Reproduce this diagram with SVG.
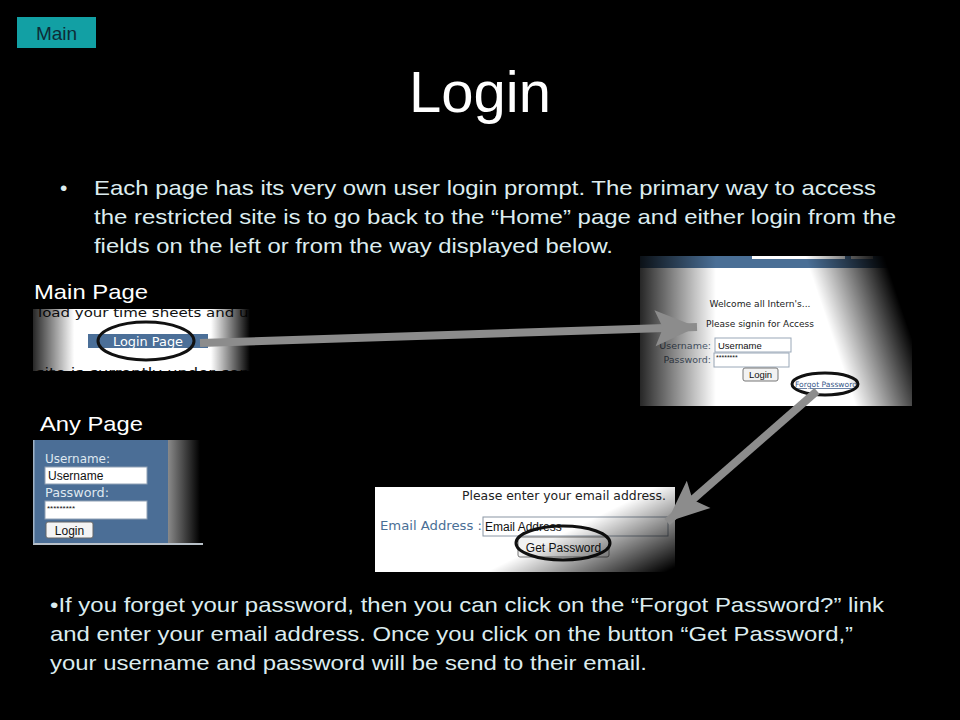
<svg xmlns="http://www.w3.org/2000/svg" width="960" height="720" viewBox="0 0 960 720">
<defs>
<style>
.body{font-family:"Liberation Sans",Arial,sans-serif;font-size:21px;fill:#dcecef}
.lbl{font-family:"Liberation Sans",Arial,sans-serif;font-size:21px;fill:#ffffff}
.ui{font-family:"DejaVu Sans",Verdana,sans-serif}
.ar{font-family:"Liberation Sans",Arial,sans-serif}
.conn{stroke:#8c8c8c;stroke-width:8;fill:none;marker-end:url(#head)}
.ring{fill:none;stroke:#111;stroke-width:3}
</style>
<marker id="head" markerUnits="userSpaceOnUse" viewBox="-46 -22 50 44" markerWidth="50" markerHeight="44" refX="0" refY="0" orient="auto">
<path d="M-42,-18 L0,0 L-42,18 L-34,0 z" fill="#8c8c8c"/>
</marker>
<linearGradient id="fade1" gradientUnits="userSpaceOnUse" x1="33" y1="0" x2="250" y2="0">
<stop offset="0" stop-color="#000" stop-opacity="0.85"/>
<stop offset="0.19" stop-color="#000" stop-opacity="0"/>
<stop offset="0.82" stop-color="#000" stop-opacity="0"/>
<stop offset="1" stop-color="#000" stop-opacity="1"/>
</linearGradient>
<linearGradient id="fade2l" gradientUnits="userSpaceOnUse" x1="640" y1="0" x2="716" y2="0">
<stop offset="0" stop-color="#000" stop-opacity="0.85"/>
<stop offset="1" stop-color="#000" stop-opacity="0"/>
</linearGradient>
<linearGradient id="fade2r" gradientUnits="userSpaceOnUse" x1="830" y1="330" x2="901" y2="306">
<stop offset="0" stop-color="#000" stop-opacity="0"/>
<stop offset="1" stop-color="#000" stop-opacity="1"/>
</linearGradient>
<linearGradient id="fade4" gradientUnits="userSpaceOnUse" x1="590" y1="520" x2="626" y2="592">
<stop offset="0" stop-color="#000" stop-opacity="0"/>
<stop offset="1" stop-color="#000" stop-opacity="1"/>
</linearGradient>
<linearGradient id="strip3" x1="0" y1="0" x2="1" y2="0">
<stop offset="0" stop-color="#8a8a8a"/>
<stop offset="1" stop-color="#000"/>
</linearGradient>
<clipPath id="clip1"><rect x="33" y="309" width="217" height="62"/></clipPath>
<clipPath id="clip2"><rect x="640" y="256" width="272" height="150"/></clipPath>
</defs>
<rect width="960" height="720" fill="#000"/>

<g id="main-button">
<rect x="17" y="17" width="79" height="31" fill="#12a0a4"/>
<text x="56.5" y="40" text-anchor="middle" class="ar" font-size="19" fill="#0e2c36">Main</text>
</g>

<g id="title">
<text x="480" y="112" text-anchor="middle" class="ar" font-size="58" fill="#ffffff">Login</text>
</g>

<g id="bullet-1" class="body">
<text x="60" y="195">•</text>
<text x="94" y="195" textLength="782" lengthAdjust="spacingAndGlyphs">Each page has its very own user login prompt. The primary way to access</text>
<text x="94" y="224" textLength="802" lengthAdjust="spacingAndGlyphs">the restricted site is to go back to the “Home” page and either login from the</text>
<text x="94" y="253" textLength="519" lengthAdjust="spacingAndGlyphs">fields on the left or from the way displayed below.</text>
</g>

<g id="main-page">
<text x="34" y="299" class="lbl" textLength="114" lengthAdjust="spacingAndGlyphs">Main Page</text>
<g clip-path="url(#clip1)">
<rect x="33" y="309" width="217" height="62" fill="#fff"/>
<text x="38" y="317" class="ui" font-size="13" fill="#111" textLength="220" lengthAdjust="spacingAndGlyphs">load your time sheets and up</text>
<rect x="88" y="334" width="120" height="14" fill="#4b6f98"/>
<text x="148" y="346" class="ui" font-size="12" fill="#fff" text-anchor="middle" textLength="70" lengthAdjust="spacingAndGlyphs">Login Page</text>
<text x="36" y="377" class="ui" font-size="13" fill="#111" textLength="222" lengthAdjust="spacingAndGlyphs">site is currently under cons</text>
<ellipse cx="146" cy="341" rx="48" ry="19" class="ring"/>
<rect x="33" y="309" width="217" height="62" fill="url(#fade1)"/>
</g>
</g>

<g id="login-page">
<g clip-path="url(#clip2)">
<rect x="640" y="256" width="272" height="150" fill="#fff"/>
<rect x="640" y="256" width="272" height="12" fill="#4a6f96"/>
<rect x="752" y="256" width="93" height="3" fill="#fff"/>
<rect x="851" y="256" width="22" height="3" fill="#cfcfcf"/>
<text x="760" y="307" class="ui" font-size="9.5" fill="#222" text-anchor="middle" textLength="101" lengthAdjust="spacingAndGlyphs">Welcome all Intern's...</text>
<text x="760" y="327" class="ui" font-size="9.5" fill="#222" text-anchor="middle" textLength="108" lengthAdjust="spacingAndGlyphs">Please signin for Access</text>
<text x="711" y="349" class="ui" font-size="9.5" fill="#56677a" text-anchor="end">Username:</text>
<rect x="715" y="338" width="76" height="14" fill="#fff" stroke="#9aa8b8"/>
<text x="718" y="349" class="ar" font-size="9.5" fill="#111">Username</text>
<text x="711" y="363" class="ui" font-size="9.5" fill="#56677a" text-anchor="end">Password:</text>
<rect x="714" y="353" width="75" height="14" fill="#fff" stroke="#9aa8b8"/>
<text x="716" y="360" class="ar" font-size="7" fill="#111">********</text>
<rect x="743" y="368" width="35" height="13" rx="2" fill="#f2f2f2" stroke="#777"/>
<text x="760.5" y="378" class="ar" font-size="9.5" fill="#111" text-anchor="middle">Login</text>
<text x="795" y="387" class="ui" font-size="7.5" fill="#3a5a8a" text-decoration="underline" textLength="62" lengthAdjust="spacingAndGlyphs">Forgot Password</text>
<ellipse cx="825" cy="384" rx="33" ry="11" class="ring" stroke-width="2.5"/>
<rect x="640" y="256" width="272" height="150" fill="url(#fade2l)"/>
<rect x="640" y="256" width="272" height="150" fill="url(#fade2r)"/>
</g>
</g>

<g id="any-page">
<text x="40" y="431" class="lbl" textLength="103" lengthAdjust="spacingAndGlyphs">Any Page</text>
<rect x="33" y="440" width="135" height="104" fill="#4b6e96"/>
<rect x="168" y="440" width="32" height="104" fill="url(#strip3)"/>
<rect x="33" y="543" width="170" height="2" fill="#b8c0c8"/>
<rect x="33" y="440" width="1.5" height="104" fill="#9fb2c6"/>
<text x="45" y="463" class="ui" font-size="11.5" fill="#dfe8f0" textLength="65" lengthAdjust="spacingAndGlyphs">Username:</text>
<rect x="45" y="467" width="102" height="17" fill="#fff" stroke="#8fa0b4"/>
<text x="48" y="480" class="ar" font-size="12" fill="#111">Username</text>
<text x="45" y="497" class="ui" font-size="11.5" fill="#dfe8f0" textLength="64" lengthAdjust="spacingAndGlyphs">Password:</text>
<rect x="45" y="501" width="102" height="18" fill="#fff" stroke="#8fa0b4"/>
<text x="47" y="511" class="ar" font-size="8" fill="#111">*********</text>
<rect x="46" y="522" width="47" height="16" rx="2" fill="#f4f4f4" stroke="#666"/>
<text x="69.5" y="535" class="ar" font-size="12" fill="#111" text-anchor="middle">Login</text>
</g>

<g id="forgot-page">
<rect x="375" y="487" width="300" height="85" fill="#fff"/>
<text x="666" y="500" class="ui" font-size="12" fill="#222" text-anchor="end" textLength="204" lengthAdjust="spacingAndGlyphs">Please enter your email address.</text>
<text x="380" y="530" class="ui" font-size="12" fill="#4a6f96" textLength="102" lengthAdjust="spacingAndGlyphs">Email Address :</text>
<rect x="483" y="517" width="185" height="19" fill="#fff" stroke="#8a96a4"/>
<text x="485" y="531" class="ar" font-size="12" fill="#111">Email Address</text>
<rect x="518" y="537" width="91" height="20" rx="2" fill="#f2f2f2" stroke="#777"/>
<text x="563.5" y="552" class="ar" font-size="12" fill="#111" text-anchor="middle">Get Password</text>
<ellipse cx="563" cy="543" rx="47" ry="17" class="ring"/>
<rect x="375" y="487" width="300" height="85" fill="url(#fade4)"/>
</g>

<g id="connectors">
<line x1="200" y1="343" x2="697" y2="327" class="conn"/>
<line x1="817" y1="391" x2="667" y2="522" class="conn"/>
</g>

<g id="bullet-2" class="body">
<text x="50" y="612" textLength="834" lengthAdjust="spacingAndGlyphs">•If you forget your password, then you can click on the “Forgot Password?” link</text>
<text x="50" y="641" textLength="803" lengthAdjust="spacingAndGlyphs">and enter your email address. Once you click on the button “Get Password,”</text>
<text x="50" y="670" textLength="597" lengthAdjust="spacingAndGlyphs">your username and password will be send to their email.</text>
</g>
</svg>
